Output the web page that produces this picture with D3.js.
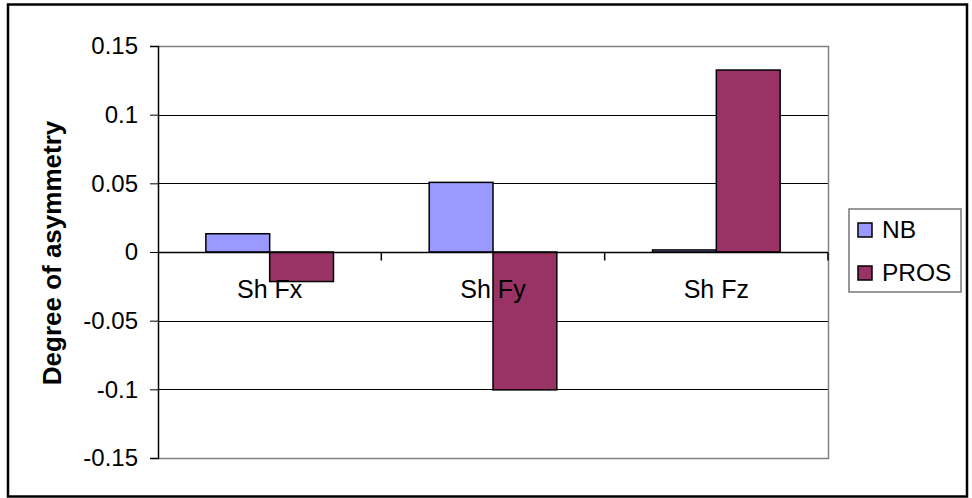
<!DOCTYPE html>
<html>
<head>
<meta charset="utf-8">
<script src="https://cdn.jsdelivr.net/npm/d3@7"></script>
<style>
  html, body { margin: 0; padding: 0; background: #fff; }
  svg { display: block; }
  text { font-family: "Liberation Sans", Arial, sans-serif; fill: #000; }
</style>
</head>
<body>
<svg id="chart" width="972" height="498"></svg>
<script>
// Asymmetry of shoulder forces per axis, two groups
const categories = ["Sh Fx", "Sh Fy", "Sh Fz"];
const seriesNames = ["NB", "PROS"];
const nbValues = [0.0133, 0.0507, 0.0015];
const prosValues = [-0.0215, -0.1004, 0.1325];
const seriesColors = ["#9999FF", "#993366"];
const yTicks = [-0.15, -0.1, -0.05, 0, 0.05, 0.1, 0.15];
const yTitle = "Degree of asymmetry";

const seriesValues = [nbValues, prosValues];
const rows = categories.map((c, i) => ({
  category: c,
  values: seriesNames.map((s, j) => ({ series: s, value: seriesValues[j][i], color: seriesColors[j] }))
}));

const svg = d3.select("#chart");
const plot = { left: 158, right: 828, top: 46, bottom: 458 };

// Outer chart frame
svg.append("rect")
  .attr("x", 8).attr("y", 4.5)
  .attr("width", 959).attr("height", 492)
  .attr("fill", "#fff").attr("stroke", "#000").attr("stroke-width", 2.5);

const y = d3.scaleLinear().domain([-0.15, 0.15]).range([plot.bottom, plot.top]);
const x0 = d3.scaleBand().domain(categories).range([plot.left, plot.right]).padding(0);
const band = x0.bandwidth();
const gapOffset = band * 0.75 / 3.5; // 150% gap width between groups
const x1 = d3.scaleBand().domain(seriesNames).range([gapOffset, band - gapOffset]).padding(0);

// Horizontal gridlines
svg.append("g")
  .selectAll("line")
  .data(yTicks.filter(t => t !== 0 && Math.abs(t) !== 0.15))
  .join("line")
  .attr("x1", plot.left).attr("x2", plot.right)
  .attr("y1", d => Math.round(y(d)) + 0.5).attr("y2", d => Math.round(y(d)) + 0.5)
  .attr("stroke", "#000").attr("stroke-width", 1);

// Plot area border (top, right, bottom)
svg.append("path")
  .attr("d", `M${plot.left},${plot.top + 0.5}H${plot.right + 0.5}V${plot.bottom + 0.5}H${plot.left}`)
  .attr("fill", "none").attr("stroke", "#808080").attr("stroke-width", 1.5);

// Bars
svg.append("g")
  .selectAll("g")
  .data(rows)
  .join("g")
  .attr("transform", d => `translate(${x0(d.category)},0)`)
  .selectAll("rect")
  .data(d => d.values)
  .join("rect")
  .attr("x", d => x1(d.series))
  .attr("width", x1.bandwidth())
  .attr("y", d => y(Math.max(0, d.value)))
  .attr("height", d => Math.abs(y(d.value) - y(0)))
  .attr("fill", d => d.color)
  .attr("stroke", "#000").attr("stroke-width", 1.5);

// Value axis
const yAxis = d3.axisLeft(y)
  .tickValues(yTicks)
  .tickSize(8)
  .tickPadding(12)
  .tickFormat(d => String(+d.toFixed(2)));
const gy = svg.append("g")
  .attr("transform", `translate(${plot.left},0)`)
  .call(yAxis);
gy.select(".domain").attr("stroke", "#000").attr("stroke-width", 1.5);
gy.selectAll(".tick line").attr("stroke", "#000");
gy.selectAll(".tick text")
  .attr("font-size", 24)
  .attr("font-family", "'Liberation Sans', Arial, sans-serif")
  .attr("fill", "#000");

// Category axis along zero
const y0 = Math.round(y(0)) + 0.5;
svg.append("line")
  .attr("x1", plot.left).attr("x2", plot.right)
  .attr("y1", y0).attr("y2", y0)
  .attr("stroke", "#000").attr("stroke-width", 1.5);
svg.append("g")
  .selectAll("line")
  .data(categories.slice(1).map(c => x0(c)).concat([plot.right]))
  .join("line")
  .attr("x1", d => d).attr("x2", d => d)
  .attr("y1", y0).attr("y2", y0 + 8)
  .attr("stroke", "#000").attr("stroke-width", 1.5);
svg.append("g")
  .selectAll("text")
  .data(categories)
  .join("text")
  .attr("x", d => x0(d) + band / 2)
  .attr("y", y0 + 45)
  .attr("text-anchor", "middle")
  .attr("font-size", 25)
  .text(d => d);

// Axis title
svg.append("text")
  .attr("transform", `translate(61,253) rotate(-90)`)
  .attr("text-anchor", "middle")
  .attr("font-size", 26)
  .attr("font-weight", "bold")
  .text(yTitle);

// Legend
const legend = svg.append("g").attr("transform", "translate(849,209)");
legend.append("rect")
  .attr("width", 112).attr("height", 83)
  .attr("fill", "#fff").attr("stroke", "#777").attr("stroke-width", 1.5);
const items = legend.selectAll("g.item")
  .data(seriesNames.map((s, i) => ({ name: s, color: seriesColors[i] })))
  .join("g")
  .attr("class", "item")
  .attr("transform", (d, i) => `translate(9,${14 + i * 43})`);
items.append("rect")
  .attr("width", 14).attr("height", 14)
  .attr("fill", d => d.color)
  .attr("stroke", "#000").attr("stroke-width", 1.5);
items.append("text")
  .attr("x", 24).attr("y", 15)
  .attr("font-size", 24.5)
  .text(d => d.name);
</script>
</body>
</html>
